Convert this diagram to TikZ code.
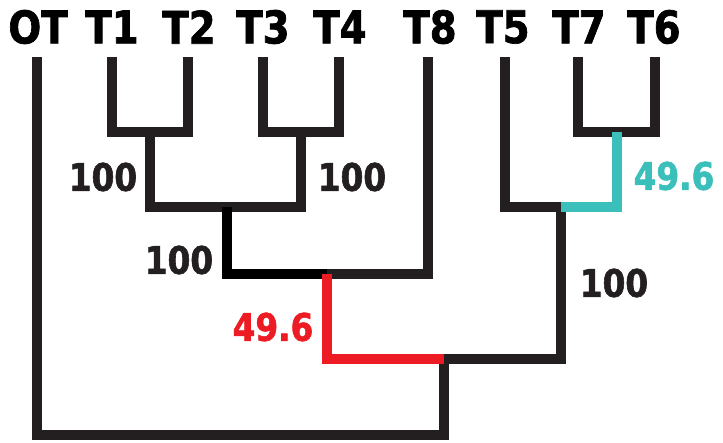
\documentclass[tikz,border=0pt]{standalone}
\usepackage{fontspec}
\newfontfamily\lblfont{DejaVu Sans Bold}[FakeStretch=0.86, FakeBold=1.5]
\definecolor{ink}{HTML}{231F20}
\definecolor{supred}{HTML}{ED1C24}
\definecolor{supteal}{HTML}{3ABFBA}
\tikzset{
  branch/.style={draw=ink, line width=10pt, line cap=butt, line join=miter},
  blackbranch/.style={branch, draw=black},
  redbranch/.style={branch, draw=supred},
  tealbranch/.style={branch, draw=supteal},
  tip/.style={font=\lblfont\fontsize{45}{45}\selectfont, text=black, inner sep=0pt, anchor=center},
  support/.style={font=\lblfont\fontsize{38}{38}\selectfont, text=ink, inner sep=0pt, anchor=center},
}
\begin{document}
\begin{tikzpicture}[x=1pt, y=-1pt]
\useasboundingbox (0,0) rectangle (723,443);

% taxon labels
\node[tip] (lOT) at (38,27) {OT};
\node[tip] (lT1) at (112,27) {T1};
\node[tip] (lT2) at (189,27) {T2};
\node[tip] (lT3) at (263,27) {T3};
\node[tip] (lT4) at (340,27) {T4};
\node[tip] (lT8) at (430,27) {T8};
\node[tip] (lT5) at (503,27) {T5};
\node[tip] (lT7) at (579,27) {T7};
\node[tip] (lT6) at (654,27) {T6};

% branch tips
\coordinate (tOT) at (37,57);
\coordinate (tT1) at (112,57);
\coordinate (tT2) at (188,57);
\coordinate (tT3) at (263,57);
\coordinate (tT4) at (339,57);
\coordinate (tT8) at (428,57);
\coordinate (tT5) at (505,57);
\coordinate (tT7) at (578,57);
\coordinate (tT6) at (655,57);

% internal nodes
\coordinate (n12) at (150,132);
\coordinate (n34) at (301,132);
\coordinate (n76) at (617,132);
\coordinate (n1234) at (227,207);
\coordinate (n57) at (561,207);
\coordinate (n8) at (327,274);
\coordinate (nin) at (444,359);
\coordinate (root) at (37,435);

% cherries
\draw[branch] (tT1) |- (n12) -| (tT2);
\draw[branch] (tT3) |- (n34) -| (tT4);
\draw[branch] (tT7) |- (n76) -| (tT6);

% (T1,T2),(T3,T4)
\draw[branch] (n12) |- (n1234) -| (n34);

% clade with T8
\draw[branch] (n8) -| (tT8);
\draw[blackbranch] (n1234) |- (n8);

% T5 with (T7,T6), joined to ingroup
\draw[branch] (tT5) |- (n57) |- (nin);

% root
\draw[branch] (nin) |- (root) -- (tOT);

% coloured branches
\draw[redbranch] (n8) |- (nin);
\draw[tealbranch] (n57) -| (n76);

% support values
\node[support] (s12) at (103,177) {100};
\node[support] (s34) at (352,177) {100};
\node[support] (s1234) at (179,260) {100};
\node[support, text=supred] (s8) at (273,327) {49.6};
\node[support, text=supteal] (s76) at (674,176) {49.6};
\node[support] (s57) at (614,283) {100};
\end{tikzpicture}
\end{document}
